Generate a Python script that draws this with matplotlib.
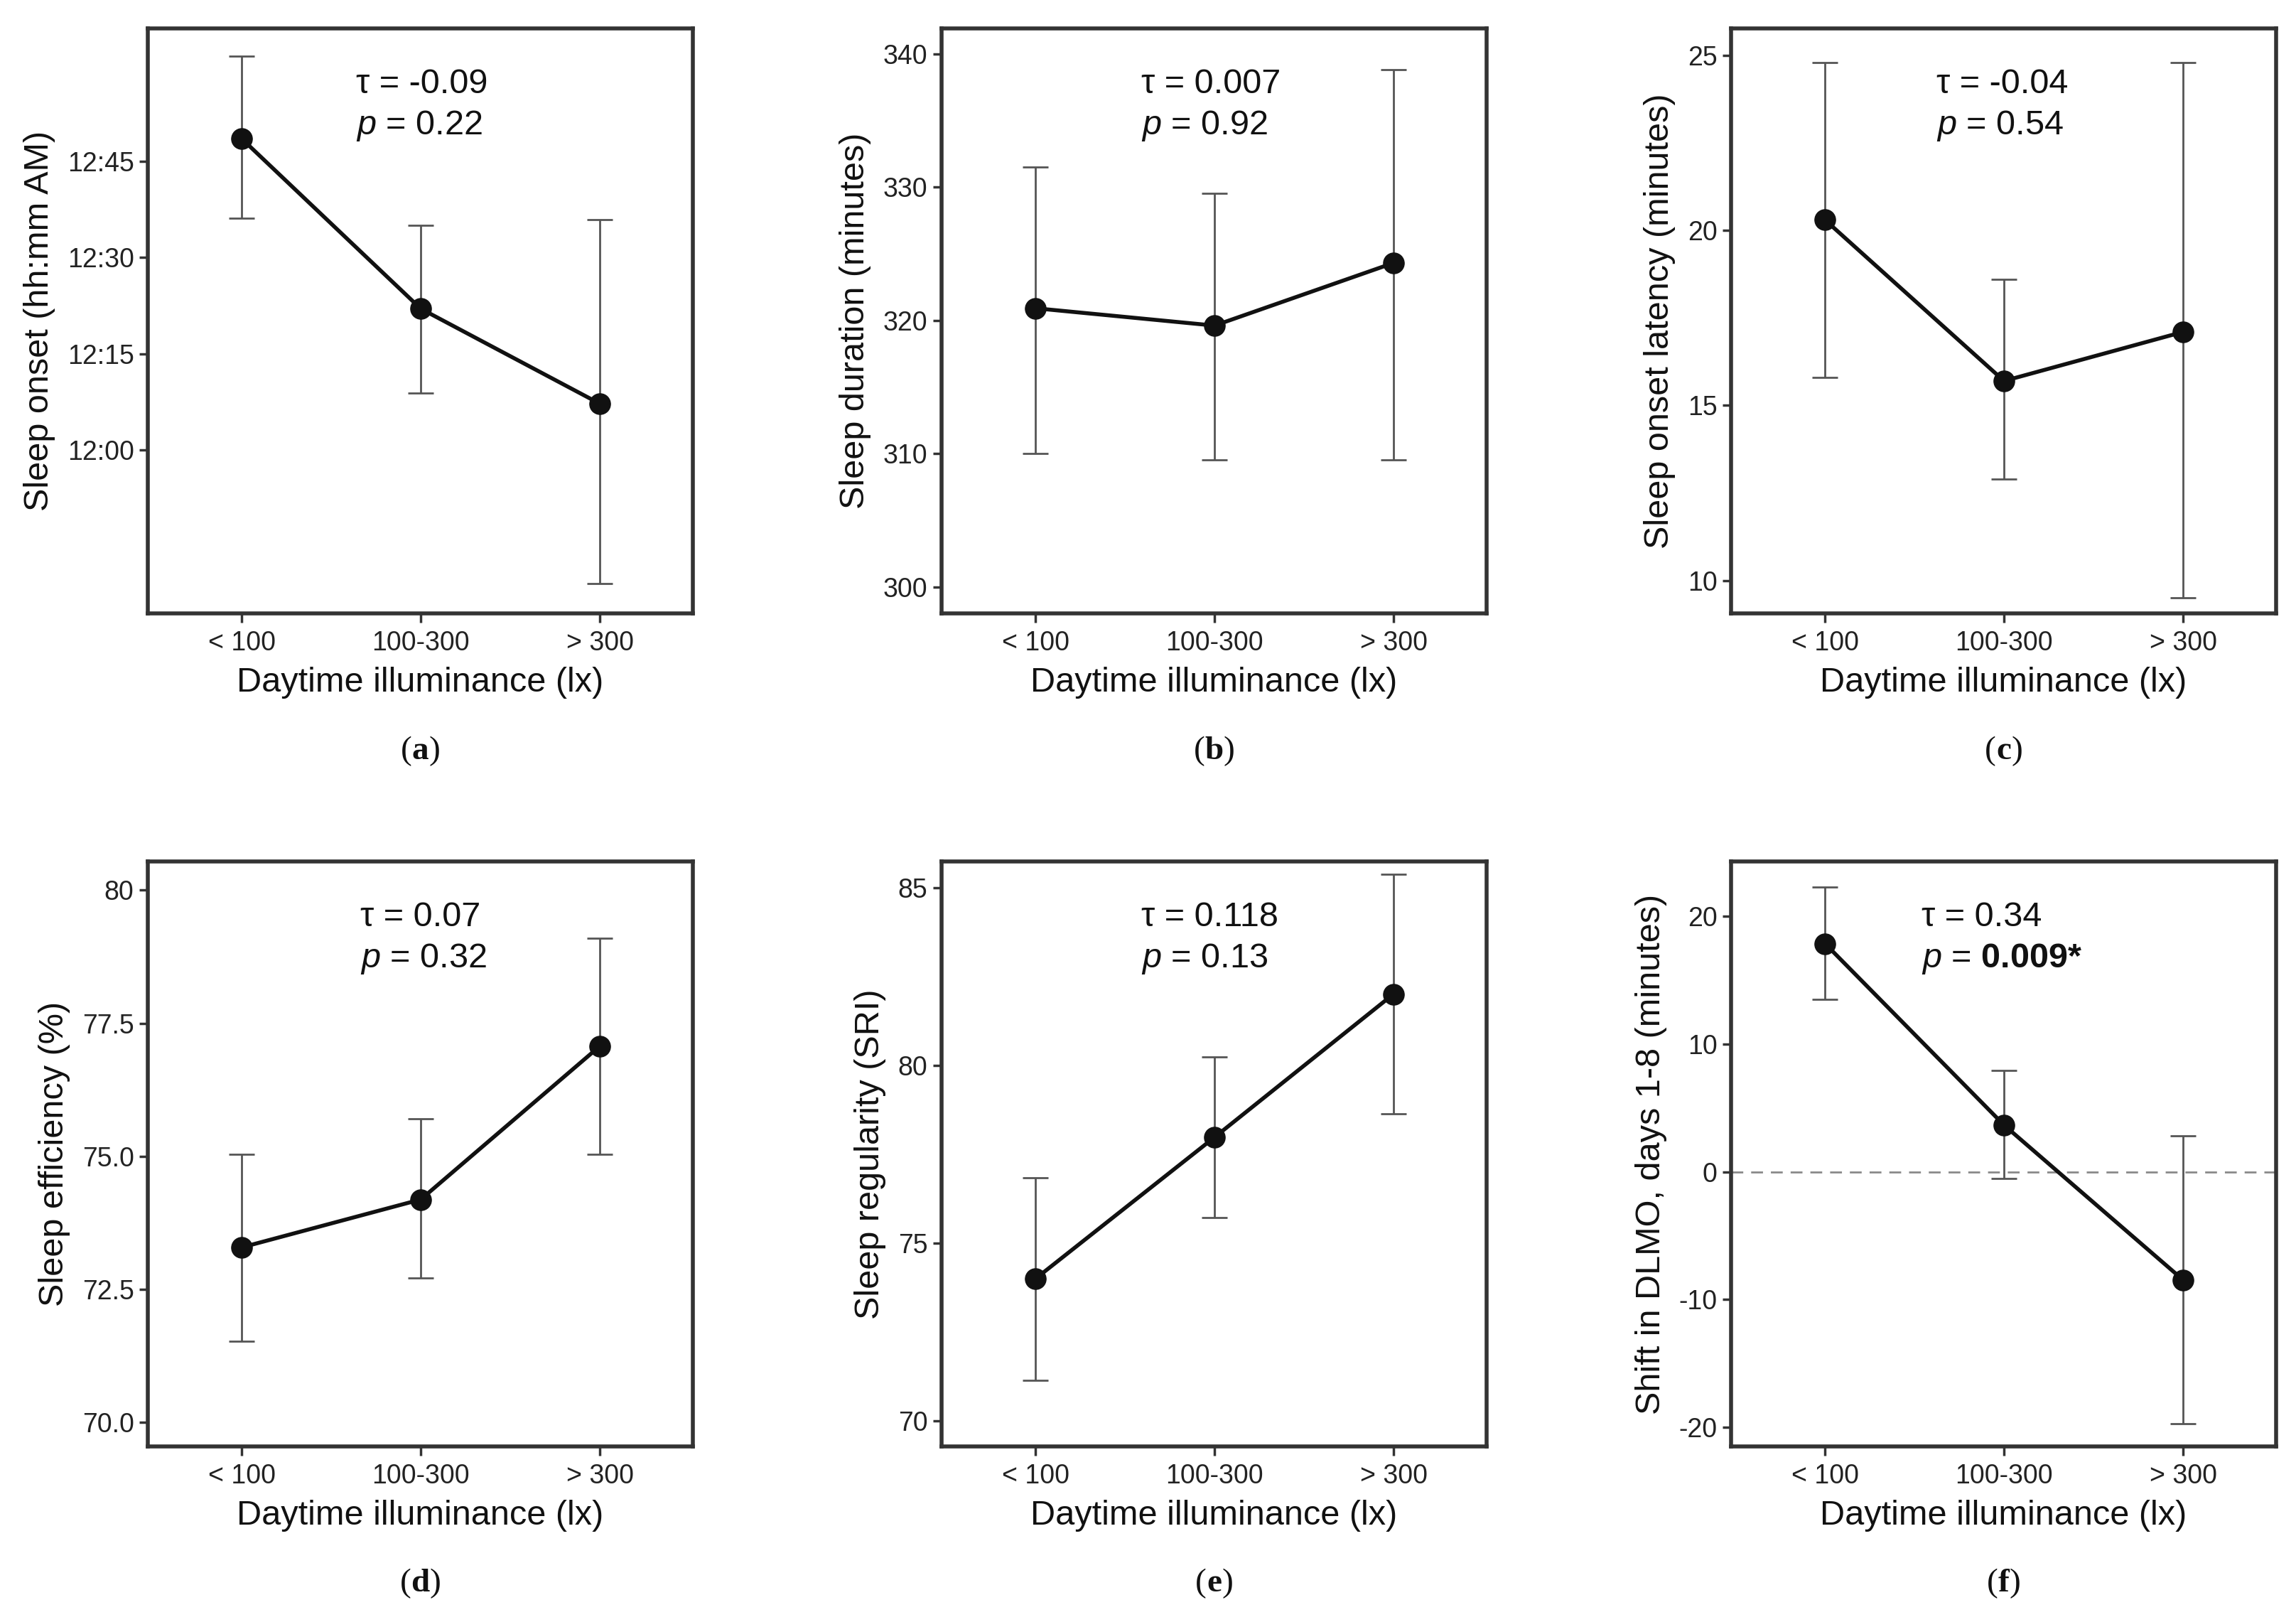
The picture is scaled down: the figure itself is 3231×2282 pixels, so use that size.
import matplotlib
matplotlib.use("Agg")
import matplotlib.pyplot as plt
import numpy as np

# ---------------- data ----------------
categories = ['< 100', '100-300', '> 300']
xlabel_text = 'Daytime illuminance (lx)'

# (a) sleep onset, minutes after 12:00 AM
onset_mean = [48.5, 22.0, 7.2]
onset_lo = [36.1, 8.8, -20.9]
onset_hi = [61.4, 35.0, 35.9]
onset_ticks = [0, 15, 30, 45]
onset_ticklabels = ['12:00', '12:15', '12:30', '12:45']

# (b) sleep duration
dur_mean = [320.9, 319.6, 324.3]
dur_lo = [310.0, 309.5, 309.5]
dur_hi = [331.5, 329.5, 338.8]
dur_ticks = [300, 310, 320, 330, 340]
dur_ticklabels = ['300', '310', '320', '330', '340']

# (c) sleep onset latency
lat_mean = [20.3, 15.7, 17.1]
lat_lo = [15.8, 12.9, 9.5]
lat_hi = [24.8, 18.6, 24.8]
lat_ticks = [10, 15, 20, 25]
lat_ticklabels = ['10', '15', '20', '25']

# (d) sleep efficiency
eff_mean = [73.29, 74.19, 77.07]
eff_lo = [71.53, 72.71, 75.04]
eff_hi = [75.04, 75.70, 79.10]
eff_ticks = [70.0, 72.5, 75.0, 77.5, 80.0]
eff_ticklabels = ['70.0', '72.5', '75.0', '77.5', '80']

# (e) sleep regularity
sri_mean = [74.0, 77.98, 82.01]
sri_lo = [71.14, 75.72, 78.65]
sri_hi = [76.84, 80.25, 85.39]
sri_ticks = [70, 75, 80, 85]
sri_ticklabels = ['70', '75', '80', '85']

# (f) DLMO shift
dlmo_mean = [17.87, 3.66, -8.46]
dlmo_lo = [13.5, -0.52, -19.7]
dlmo_hi = [22.3, 7.93, 2.82]
dlmo_ticks = [-20, -10, 0, 10, 20]
dlmo_ticklabels = ['-20', '-10', '0', '10', '20']

ylabels = ['Sleep onset (hh:mm AM)', 'Sleep duration (minutes)',
           'Sleep onset latency (minutes)', 'Sleep efficiency (%)',
           'Sleep regularity (SRI)', 'Shift in DLMO, days 1-8 (minutes)']
tau_texts = ['τ = -0.09', 'τ = 0.007', 'τ = -0.04', 'τ = 0.07', 'τ = 0.118', 'τ = 0.34']
p_texts = [r'$p$ = 0.22', r'$p$ = 0.92', r'$p$ = 0.54', r'$p$ = 0.32', r'$p$ = 0.13',
           r'$p$ = $\mathbf{0.009{*}}$']
panel_letters = ['a', 'b', 'c', 'd', 'e', 'f']

# ---------------- style ----------------
plt.rcParams['font.family'] = ['Liberation Sans', 'DejaVu Sans']
plt.rcParams['mathtext.fontset'] = 'custom'
plt.rcParams['mathtext.rm'] = 'Liberation Sans'
plt.rcParams['mathtext.it'] = 'Liberation Sans:italic'
plt.rcParams['mathtext.bf'] = 'Liberation Sans:bold'

W, H = 3231, 2282
fig = plt.figure(figsize=(W / 100, H / 100), dpi=100)

col_x0 = [208, 1325, 2436]
col_w = 767
row_top = [40, 1212]
row_h = 823
text_x = [0.382, 0.366, 0.377, 0.39, 0.366, 0.35]

panels = [
    (onset_mean, onset_lo, onset_hi, onset_ticks, onset_ticklabels, (-25.5, 65.7)),
    (dur_mean, dur_lo, dur_hi, dur_ticks, dur_ticklabels, (298.0, 341.9)),
    (lat_mean, lat_lo, lat_hi, lat_ticks, lat_ticklabels, (9.06, 25.77)),
    (eff_mean, eff_lo, eff_hi, eff_ticks, eff_ticklabels, (69.55, 80.54)),
    (sri_mean, sri_lo, sri_hi, sri_ticks, sri_ticklabels, (69.28, 85.74)),
    (dlmo_mean, dlmo_lo, dlmo_hi, dlmo_ticks, dlmo_ticklabels, (-21.5, 24.3)),
]
label_y = [1057, 2228]

x = np.arange(len(categories))
for i, (mean, lo, hi, ticks, ticklabels, ylim) in enumerate(panels):
    r, c = divmod(i, 3)
    left = col_x0[c] / W
    bottom = 1 - (row_top[r] + row_h) / H
    ax = fig.add_axes([left, bottom, col_w / W, row_h / H])
    mean = np.array(mean)
    yerr = [mean - np.array(lo), np.array(hi) - mean]
    if i == 5:
        ax.axhline(0, color='#8a8a8a', lw=2.0, ls=(0, (6, 4)), zorder=1)
    ax.errorbar(x, mean, yerr=yerr, fmt='none', ecolor='#555555', elinewidth=2.0,
                capsize=13, capthick=2.0, zorder=2)
    ax.plot(x, mean, color='#111111', lw=4.0, marker='o', markersize=21,
            markerfacecolor='#111111', markeredgecolor='#111111', zorder=3)
    ax.set_xlim(-0.525, 2.52)
    ax.set_ylim(*ylim)
    ax.set_xticks(x)
    ax.set_xticklabels(categories)
    ax.set_yticks(ticks)
    ax.set_yticklabels(ticklabels)
    for s in ax.spines.values():
        s.set_linewidth(4.0)
        s.set_color('#333333')
    ax.tick_params(axis='both', which='major', direction='out', length=9, width=2.5,
                   color='#333333', labelsize=27, labelcolor='#222222', pad=5)
    ax.tick_params(axis='x', pad=8)
    ax.set_xlabel(xlabel_text, fontsize=35, color='#111111', labelpad=11)
    ax.set_ylabel(ylabels[i], fontsize=35, color='#111111', labelpad=12)
    ax.text(text_x[i], 0.905, tau_texts[i], transform=ax.transAxes, fontsize=35,
            ha='left', va='center', color='#111111')
    ax.text(text_x[i], 0.833, p_texts[i], transform=ax.transAxes, fontsize=35,
            ha='left', va='center', color='#111111')

    # panel label "(a)" with bold letter, serif
    cx = (col_x0[c] + col_w / 2) / W
    cy = 1 - label_y[r] / H
    tm = fig.text(cx, cy, panel_letters[i], fontsize=34, fontweight='bold',
                  family='Liberation Serif', ha='center', va='center', color='#111111')
    fig.add_artist(plt.Annotation('(', xy=(0, 0), xycoords=tm, fontsize=34,
                                  family='Liberation Serif', ha='right', va='bottom',
                                  color='#111111', annotation_clip=False))
    fig.add_artist(plt.Annotation(')', xy=(1, 0), xycoords=tm, fontsize=34,
                                  family='Liberation Serif', ha='left', va='bottom',
                                  color='#111111', annotation_clip=False))

fig.savefig('out.png', dpi=100, facecolor='white')
